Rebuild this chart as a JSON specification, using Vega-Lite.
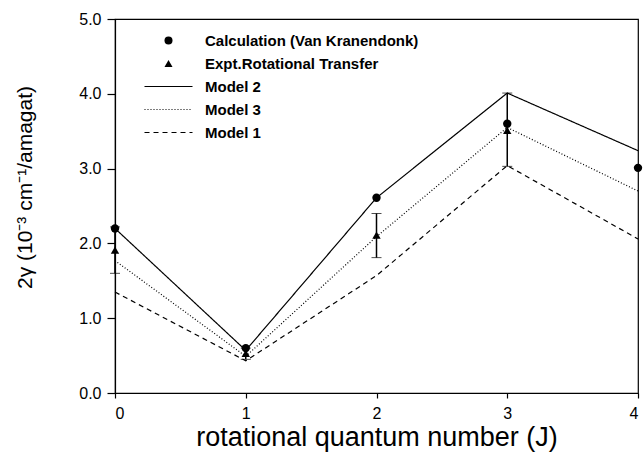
{
  "$schema": "https://vega.github.io/schema/vega-lite/v6.json",
  "autosize": {"type": "none"},
  "width": 523,
  "height": 374,
  "padding": {"left": 115, "top": 19, "right": 6, "bottom": 59},
  "background": "white",
  "config": {
    "font": "Liberation Sans",
    "view": {"stroke": "black", "strokeWidth": 1.2},
    "axis": {"grid": false, "domainColor": "black", "tickColor": "black", "labelColor": "black", "titleColor": "black", "domainWidth": 1.2, "tickWidth": 1.2, "labelFont": "Liberation Sans", "titleFont": "Liberation Sans", "titleFontWeight": "normal"},
    "axisY": {"titleX": -80, "titleY": 168, "titleFontSize": 21, "labelFontSize": 16, "tickSize": 8, "labelPadding": 6}
  },
  "data": {"values": [
    {"J": 0, "series": "Model 2", "value": 2.20},
    {"J": 1, "series": "Model 2", "value": 0.57},
    {"J": 2, "series": "Model 2", "value": 2.61},
    {"J": 3, "series": "Model 2", "value": 4.01},
    {"J": 4, "series": "Model 2", "value": 3.24},
    {"J": 0, "series": "Model 3", "value": 1.77},
    {"J": 1, "series": "Model 3", "value": 0.49},
    {"J": 2, "series": "Model 3", "value": 2.09},
    {"J": 3, "series": "Model 3", "value": 3.55},
    {"J": 4, "series": "Model 3", "value": 2.70},
    {"J": 0, "series": "Model 1", "value": 1.35},
    {"J": 1, "series": "Model 1", "value": 0.43},
    {"J": 2, "series": "Model 1", "value": 1.57},
    {"J": 3, "series": "Model 1", "value": 3.04},
    {"J": 4, "series": "Model 1", "value": 2.06},
    {"J": 0, "series": "Calculation (Van Kranendonk)", "value": 2.20},
    {"J": 1, "series": "Calculation (Van Kranendonk)", "value": 0.60},
    {"J": 2, "series": "Calculation (Van Kranendonk)", "value": 2.61},
    {"J": 3, "series": "Calculation (Van Kranendonk)", "value": 3.60},
    {"J": 4, "series": "Calculation (Van Kranendonk)", "value": 3.01},
    {"J": 0, "series": "Expt.Rotational Transfer", "value": 1.91, "lo": 1.60, "hi": 2.22},
    {"J": 1, "series": "Expt.Rotational Transfer", "value": 0.53, "lo": 0.45, "hi": 0.60},
    {"J": 2, "series": "Expt.Rotational Transfer", "value": 2.11, "lo": 1.81, "hi": 2.40},
    {"J": 3, "series": "Expt.Rotational Transfer", "value": 3.51, "lo": 3.03, "hi": 4.01}
  ]},
  "encoding": {
    "x": {"field": "J", "type": "quantitative", "scale": {"domain": [0, 4], "nice": false},
      "axis": {"values": [0, 1, 2, 3, 4], "format": "d", "title": "rotational quantum number (J)", "labelFontSize": 16, "titleFontSize": 27, "tickSize": 5, "labelPadding": 7, "titlePadding": 3}}
  },
  "layer": [
    {
      "transform": [{"filter": "indexof(['Model 1','Model 2','Model 3'], datum.series) >= 0"}],
      "mark": {"type": "line", "color": "black", "strokeWidth": 1.2},
      "encoding": {
        "y": {"field": "value", "type": "quantitative", "scale": {"domain": [0, 5], "nice": false},
          "axis": {"values": [0, 1, 2, 3, 4, 5], "format": ".1f"}, "title": "2γ (10⁻³ cm⁻¹/amagat)"},
        "detail": {"field": "series"},
        "strokeDash": {"field": "series", "type": "nominal", "legend": null,
          "scale": {"domain": ["Model 2", "Model 3", "Model 1"], "range": [[1, 0], [1, 2], [5, 4]]}}
      }
    },
    {
      "transform": [{"filter": "isValid(datum.lo)"}],
      "mark": {"type": "errorbar", "ticks": {"size": 10, "color": "black", "strokeWidth": 1.5}, "rule": {"color": "black", "strokeWidth": 1.5}},
      "encoding": {
        "y": {"field": "lo", "type": "quantitative", "title": "2γ (10⁻³ cm⁻¹/amagat)"},
        "y2": {"field": "hi"}
      }
    },
    {
      "transform": [{"filter": "indexof(['Calculation (Van Kranendonk)','Expt.Rotational Transfer'], datum.series) >= 0"}],
      "mark": {"type": "point", "filled": true, "color": "black", "size": 70, "opacity": 1},
      "encoding": {
        "y": {"field": "value", "type": "quantitative", "title": "2γ (10⁻³ cm⁻¹/amagat)"},
        "shape": {"field": "series", "type": "nominal",
          "scale": {"domain": ["Calculation (Van Kranendonk)", "Expt.Rotational Transfer", "Model 2", "Model 3", "Model 1"],
                    "range": ["circle", "triangle-up",
                      "M-6,-0.15H6V0.15H-6Z",
                      "M-6,-0.125H-5.75V0.125H-6Z M-5.25,-0.125H-5V0.125H-5.25Z M-4.5,-0.125H-4.25V0.125H-4.5Z M-3.75,-0.125H-3.5V0.125H-3.75Z M-3,-0.125H-2.75V0.125H-3Z M-2.25,-0.125H-2V0.125H-2.25Z M-1.5,-0.125H-1.25V0.125H-1.5Z M-0.75,-0.125H-0.5V0.125H-0.75Z M0,-0.125H0.25V0.125H0Z M0.75,-0.125H1V0.125H0.75Z M1.5,-0.125H1.75V0.125H1.5Z M2.25,-0.125H2.5V0.125H2.25Z M3,-0.125H3.25V0.125H3Z M3.75,-0.125H4V0.125H3.75Z M4.5,-0.125H4.75V0.125H4.5Z M5.25,-0.125H5.5V0.125H5.25Z",
                      "M-6,-0.15H-4.75V0.15H-6Z M-3.75,-0.15H-2.5V0.15H-3.75Z M-1.5,-0.15H-0.25V0.15H-1.5Z M0.75,-0.15H2V0.15H0.75Z M3,-0.15H4.25V0.15H3Z M5.25,-0.15H6V0.15H5.25Z"]},
          "legend": {
            "title": null, "orient": "none", "legendX": 46, "legendY": 14,
            "labelFontSize": 15, "labelFontWeight": "bold", "labelColor": "black", "labelFont": "Liberation Sans", "labelLimit": 400,
            "symbolSize": 64, "labelOffset": 29, "rowPadding": 7, "padding": 0,
            "symbolFillColor": "black", "symbolStrokeColor": "transparent", "symbolOpacity": 1,
            "encode": {"symbols": {"update": {
              "fill": {"value": "black"},
              "fillOpacity": {"value": 1},
              "opacity": {"value": 1},
              "stroke": {"value": "transparent"}
            }}}
          }
        }
      }
    }
  ]
}
